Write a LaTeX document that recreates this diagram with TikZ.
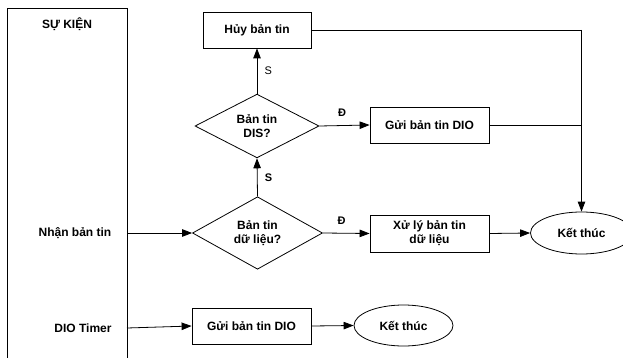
\documentclass[tikz,border=0pt]{standalone}
\usepackage{fontspec}
\setmainfont{Liberation Sans}
\usetikzlibrary{arrows.meta,shapes.geometric}
\begin{document}
\begin{tikzpicture}[x=1pt,y=-1pt,
  font=\fontsize{12}{14}\selectfont\bfseries,
  line width=0.8pt,
  box/.style={draw, rectangle, inner sep=0pt, align=center},
  decision/.style={draw, diamond, inner sep=0pt, align=center},
  terminal/.style={draw, ellipse, inner sep=0pt, align=center},
  flow/.style={-{Triangle[length=10pt,width=7.5pt]}},
  lbl/.style={font=\fontsize{11}{13}\selectfont\bfseries}]
\useasboundingbox (0,0) rectangle (623,358);
\clip (0,0) rectangle (623,358);

% events column
\draw (7,400) -- (7,8) -- (127,8) -- (127,400);
\node (ev)    at (67,24)  {SỰ KIỆN};
\node (recv)  at (75,233) {Nhận bản tin};
\node (timer) at (83,328) {DIO Timer};
\coordinate (recvout)  at (127,233);
\coordinate (timerout) at (127,328);

% process nodes
\node[box, minimum width=108pt, minimum height=36pt] (drop) at (257,30) {Hủy bản tin};
\node[decision, minimum width=124pt, minimum height=60pt] (isdis) at (257,126) {Bản tin\\DIS?};
\node[box, minimum width=119pt, minimum height=36pt] (senddio) at (429.5,125) {Gửi bản tin DIO};
\node[decision, minimum width=130pt, minimum height=63pt] (isdata) at (257.5,233) {Bản tin\\dữ liệu?};
\node[box, minimum width=119pt, minimum height=37pt] (proc) at (429.5,233.5) {Xử lý bản tin\\dữ liệu};
\node[terminal, minimum width=102pt, minimum height=42pt] (end1) at (581.5,233) {Kết thúc};
\node[box, minimum width=119pt, minimum height=36pt] (senddio2) at (251.5,326) {Gửi bản tin DIO};
\node[terminal, minimum width=99pt, minimum height=41pt] (end2) at (403.5,325.5) {Kết thúc};

% connectors
\draw[flow] (recvout) -- (isdata.west);
\draw[flow] (isdata.north) -- node[right=4pt, lbl] {S} (isdis.south);
\draw[flow] (isdis.north) -- node[right=4pt, font=\fontsize{11}{13}\selectfont] {S} (drop.south);
\draw[flow] (isdis.east) -- node[above=5pt, pos=0.45, lbl] {Đ} (senddio.west);
\draw[flow] (isdata.east) -- node[above=5pt, pos=0.4, lbl] {Đ} (proc.west);
\draw[flow] (proc.east) -- (end1.west);
\draw (drop.east) -- (drop.east -| end1.north);
\draw (senddio.east) -- (senddio.east -| end1.north);
\draw[flow] (drop.east -| end1.north) -- (end1.north);
\draw[flow] (timerout) -- (senddio2.west);
\draw[flow] (senddio2.east) -- (end2.west);
\end{tikzpicture}
\end{document}
